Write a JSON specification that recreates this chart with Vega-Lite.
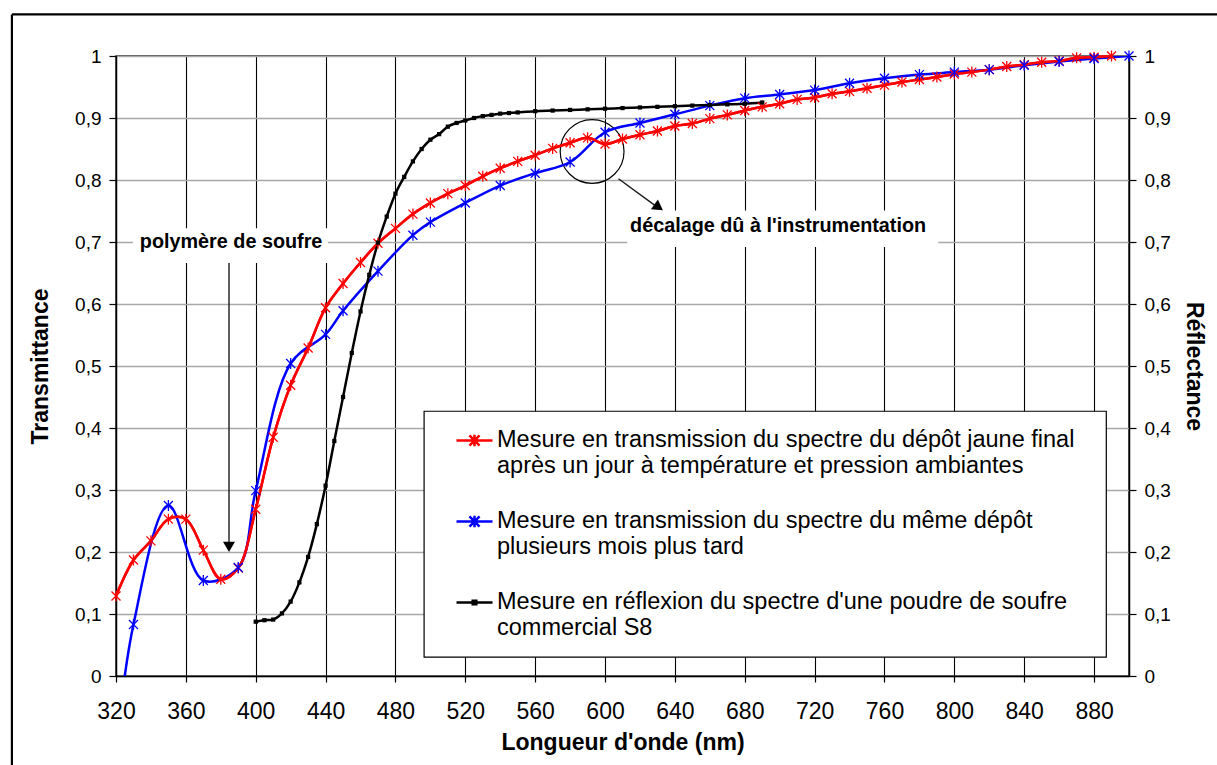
{
  "$schema": "https://vega.github.io/schema/vega-lite/v6.json",
  "width": 1013,
  "height": 620,
  "autosize": {"type": "none"},
  "padding": {"left": 116, "top": 56, "right": 88, "bottom": 89},
  "background": "white",
  "config": {
    "font": "Liberation Sans",
    "view": {"stroke": "#222222", "strokeWidth": 1.5},
    "axis": {"domainColor": "#000000", "domainWidth": 1.5, "tickColor": "#000000", "tickWidth": 1.2, "labelColor": "#000000", "titleColor": "#000000", "labelFont": "Liberation Sans", "titleFont": "Liberation Sans"}
  },
  "datasets": {
    "spectra": [
      {"s": "A", "nm": 320, "v": 0.129}, {"s": "A", "nm": 330, "v": 0.187}, {"s": "A", "nm": 340, "v": 0.218}, {"s": "A", "nm": 350, "v": 0.253}, {"s": "A", "nm": 360, "v": 0.253}, {"s": "A", "nm": 370, "v": 0.203}, {"s": "A", "nm": 380, "v": 0.156}, {"s": "A", "nm": 390, "v": 0.174}, {"s": "A", "nm": 400, "v": 0.269}, {"s": "A", "nm": 410, "v": 0.385}, {"s": "A", "nm": 420, "v": 0.469}, {"s": "A", "nm": 430, "v": 0.529}, {"s": "A", "nm": 440, "v": 0.594}, {"s": "A", "nm": 450, "v": 0.633}, {"s": "A", "nm": 460, "v": 0.667}, {"s": "A", "nm": 470, "v": 0.698}, {"s": "A", "nm": 480, "v": 0.722}, {"s": "A", "nm": 490, "v": 0.745}, {"s": "A", "nm": 500, "v": 0.763}, {"s": "A", "nm": 510, "v": 0.778}, {"s": "A", "nm": 520, "v": 0.791}, {"s": "A", "nm": 530, "v": 0.806}, {"s": "A", "nm": 540, "v": 0.819}, {"s": "A", "nm": 550, "v": 0.830}, {"s": "A", "nm": 560, "v": 0.840}, {"s": "A", "nm": 570, "v": 0.851}, {"s": "A", "nm": 580, "v": 0.860}, {"s": "A", "nm": 590, "v": 0.868}, {"s": "A", "nm": 600, "v": 0.858}, {"s": "A", "nm": 610, "v": 0.866}, {"s": "A", "nm": 620, "v": 0.873}, {"s": "A", "nm": 630, "v": 0.879}, {"s": "A", "nm": 640, "v": 0.887}, {"s": "A", "nm": 650, "v": 0.891}, {"s": "A", "nm": 660, "v": 0.899}, {"s": "A", "nm": 670, "v": 0.905}, {"s": "A", "nm": 680, "v": 0.912}, {"s": "A", "nm": 690, "v": 0.918}, {"s": "A", "nm": 700, "v": 0.923}, {"s": "A", "nm": 710, "v": 0.930}, {"s": "A", "nm": 720, "v": 0.933}, {"s": "A", "nm": 730, "v": 0.939}, {"s": "A", "nm": 740, "v": 0.943}, {"s": "A", "nm": 750, "v": 0.948}, {"s": "A", "nm": 760, "v": 0.953}, {"s": "A", "nm": 770, "v": 0.958}, {"s": "A", "nm": 780, "v": 0.962}, {"s": "A", "nm": 790, "v": 0.966}, {"s": "A", "nm": 800, "v": 0.971}, {"s": "A", "nm": 810, "v": 0.974}, {"s": "A", "nm": 820, "v": 0.978}, {"s": "A", "nm": 830, "v": 0.983}, {"s": "A", "nm": 840, "v": 0.986}, {"s": "A", "nm": 850, "v": 0.990}, {"s": "A", "nm": 860, "v": 0.992}, {"s": "A", "nm": 870, "v": 0.997}, {"s": "A", "nm": 880, "v": 0.998}, {"s": "A", "nm": 890, "v": 1.0},
      {"s": "B", "nm": 320, "v": -0.12}, {"s": "B", "nm": 330, "v": 0.083}, {"s": "B", "nm": 350, "v": 0.275}, {"s": "B", "nm": 370, "v": 0.154}, {"s": "B", "nm": 390, "v": 0.175}, {"s": "B", "nm": 400, "v": 0.299}, {"s": "B", "nm": 420, "v": 0.504}, {"s": "B", "nm": 440, "v": 0.551}, {"s": "B", "nm": 450, "v": 0.589}, {"s": "B", "nm": 470, "v": 0.653}, {"s": "B", "nm": 490, "v": 0.711}, {"s": "B", "nm": 500, "v": 0.732}, {"s": "B", "nm": 520, "v": 0.763}, {"s": "B", "nm": 540, "v": 0.791}, {"s": "B", "nm": 560, "v": 0.811}, {"s": "B", "nm": 580, "v": 0.829}, {"s": "B", "nm": 600, "v": 0.877}, {"s": "B", "nm": 620, "v": 0.892}, {"s": "B", "nm": 640, "v": 0.906}, {"s": "B", "nm": 660, "v": 0.920}, {"s": "B", "nm": 680, "v": 0.932}, {"s": "B", "nm": 700, "v": 0.938}, {"s": "B", "nm": 720, "v": 0.945}, {"s": "B", "nm": 740, "v": 0.956}, {"s": "B", "nm": 760, "v": 0.964}, {"s": "B", "nm": 780, "v": 0.970}, {"s": "B", "nm": 800, "v": 0.974}, {"s": "B", "nm": 820, "v": 0.978}, {"s": "B", "nm": 840, "v": 0.985}, {"s": "B", "nm": 860, "v": 0.991}, {"s": "B", "nm": 880, "v": 0.996}, {"s": "B", "nm": 900, "v": 1.0},
      {"s": "C", "nm": 400, "v": 0.0876}, {"s": "C", "nm": 405, "v": 0.090}, {"s": "C", "nm": 410, "v": 0.091}, {"s": "C", "nm": 415, "v": 0.101}, {"s": "C", "nm": 420, "v": 0.120}, {"s": "C", "nm": 425, "v": 0.151}, {"s": "C", "nm": 430, "v": 0.192}, {"s": "C", "nm": 435, "v": 0.245}, {"s": "C", "nm": 440, "v": 0.307}, {"s": "C", "nm": 445, "v": 0.379}, {"s": "C", "nm": 450, "v": 0.450}, {"s": "C", "nm": 455, "v": 0.521}, {"s": "C", "nm": 460, "v": 0.588}, {"s": "C", "nm": 465, "v": 0.647}, {"s": "C", "nm": 470, "v": 0.699}, {"s": "C", "nm": 475, "v": 0.741}, {"s": "C", "nm": 480, "v": 0.778}, {"s": "C", "nm": 485, "v": 0.805}, {"s": "C", "nm": 490, "v": 0.830}, {"s": "C", "nm": 495, "v": 0.850}, {"s": "C", "nm": 500, "v": 0.865}, {"s": "C", "nm": 505, "v": 0.874}, {"s": "C", "nm": 510, "v": 0.886}, {"s": "C", "nm": 515, "v": 0.892}, {"s": "C", "nm": 520, "v": 0.896}, {"s": "C", "nm": 525, "v": 0.900}, {"s": "C", "nm": 530, "v": 0.903}, {"s": "C", "nm": 535, "v": 0.905}, {"s": "C", "nm": 540, "v": 0.907}, {"s": "C", "nm": 545, "v": 0.908}, {"s": "C", "nm": 550, "v": 0.909}, {"s": "C", "nm": 560, "v": 0.911}, {"s": "C", "nm": 570, "v": 0.912}, {"s": "C", "nm": 580, "v": 0.913}, {"s": "C", "nm": 590, "v": 0.914}, {"s": "C", "nm": 600, "v": 0.915}, {"s": "C", "nm": 610, "v": 0.916}, {"s": "C", "nm": 620, "v": 0.917}, {"s": "C", "nm": 630, "v": 0.918}, {"s": "C", "nm": 640, "v": 0.919}, {"s": "C", "nm": 650, "v": 0.920}, {"s": "C", "nm": 660, "v": 0.921}, {"s": "C", "nm": 670, "v": 0.922}, {"s": "C", "nm": 680, "v": 0.923}, {"s": "C", "nm": 690, "v": 0.925}
    ]
  },
  "resolve": {"scale": {"y": "independent"}},
  "layer": [
    {
      "data": {"name": "spectra"},
      "transform": [{"filter": "datum.s == 'A'"}],
      "mark": {"type": "line", "strokeWidth": 2.5, "interpolate": "catmull-rom"},
      "encoding": {
        "x": {
          "field": "nm", "type": "quantitative",
          "scale": {"domain": [320, 900], "nice": false, "zero": false},
          "axis": {
            "title": "Longueur d'onde (nm)",
            "values": [320, 340, 360, 380, 400, 420, 440, 460, 480, 500, 520, 540, 560, 580, 600, 620, 640, 660, 680, 700, 720, 740, 760, 780, 800, 820, 840, 860, 880, 900],
            "labelExpr": "datum.value % 40 == 0 ? datum.label : ''",
            "labelFlush": false,
            "labelOverlap": false,
            "labelFontSize": 23,
            "labelPadding": 18,
            "tickSize": 6,
            "grid": true,
            "gridColor": "#000000",
            "gridWidth": 1.1,
            "gridOpacity": {"condition": {"test": "datum.value % 40 != 0 || datum.value == 320 || datum.value == 900", "value": 0}, "value": 1},
            "titleFontSize": 23,
            "titleFontWeight": "bold",
            "titlePadding": 8
          }
        },
        "y": {
          "field": "v", "type": "quantitative",
          "scale": {"domain": [0, 1], "nice": false, "zero": false},
          "axis": {
            "title": "Transmittance",
            "values": [0, 0.1, 0.2, 0.3, 0.4, 0.5, 0.6, 0.7, 0.8, 0.9, 1],
            "labelExpr": "replace(format(datum.value, '.1~f'), '.', ',')",
            "labelFontSize": 19,
            "labelPadding": 8,
            "tickSize": 7,
            "grid": true,
            "gridColor": "#a8a8a8",
            "gridWidth": 1.4,
            "titleFontSize": 23,
            "titleFontWeight": "bold",
            "titlePadding": 22
          }
        },
        "color": {
          "field": "s", "type": "nominal",
          "scale": {"domain": ["A", "B", "C"], "range": ["#ff0000", "#0000ff", "#000000"]},
          "legend": {
            "orient": "none",
            "legendX": 339,
            "legendY": 365,
            "direction": "vertical",
            "title": null,
            "padding": 0,
            "values": ["A", "B", "C"],
            "labelExpr": "datum.value == 'A' ? ['Mesure en transmission du spectre du dépôt jaune final', 'après un jour à température et pression ambiantes'] : datum.value == 'B' ? ['Mesure en transmission du spectre du même dépôt', 'plusieurs mois plus tard'] : [\"Mesure en réflexion du spectre d'une poudre de soufre\", 'commercial S8']",
            "labelFontSize": 23.5,
            "labelLimit": 0,
            "labelOffset": 3,
            "labelBaseline": "top",
            "labelColor": "#000000",
            "symbolSize": 1296,
            "symbolStrokeWidth": 2.5,
            "rowPadding": 25,
            "encode": {
              "symbols": {"update": {
                "shape": {"signal": "datum.value == 'C' ? 'M-1,0L1,0M-0.1,-0.1L0.1,-0.1L0.1,0.1L-0.1,0.1Z' : 'M-1,0L1,0M-0.28,-0.28L0.28,0.28M-0.28,0.28L0.28,-0.28M0,-0.32L0,0.32'"},
                "fill": {"value": "transparent"}
              }},
              "labels": {"update": {"dy": {"value": -13}, "lineHeight": {"value": 26}}}
            }
          }
        }
      }
    },
    {
      "data": {"values": [{"x": 260.4, "x2": 960, "y": 1.067, "y2": 1.067}, {"x": 260.4, "x2": 260.4, "y": 1.067, "y2": -0.3}]},
      "mark": {"type": "rule", "color": "#000000", "strokeWidth": 2.2, "clip": false},
      "encoding": {
        "x": {"field": "x", "type": "quantitative"},
        "x2": {"field": "x2"},
        "y": {"field": "y", "type": "quantitative", "axis": null, "scale": {"domain": [0, 1], "nice": false, "zero": false}},
        "y2": {"field": "y2"}
      }
    },
    {
      "data": {"values": [{"x": 496.4, "x2": 887.0, "y": 0.427, "y2": 0.0306}]},
      "mark": {"type": "rect", "fill": "#ffffff", "stroke": "#000000", "strokeWidth": 1.2},
      "encoding": {
        "x": {"field": "x", "type": "quantitative"},
        "x2": {"field": "x2"},
        "y": {"field": "y", "type": "quantitative", "axis": null, "scale": {"domain": [0, 1], "nice": false, "zero": false}},
        "y2": {"field": "y2"}
      }
    },
    {
      "data": {"values": [{"x": 329.7, "x2": 441.4, "y": 0.722, "y2": 0.666}, {"x": 612.7, "x2": 790.8, "y": 0.751, "y2": 0.692}]},
      "mark": {"type": "rect", "fill": "#ffffff"},
      "encoding": {
        "x": {"field": "x", "type": "quantitative"},
        "x2": {"field": "x2"},
        "y": {"field": "y", "type": "quantitative", "axis": null, "scale": {"domain": [0, 1], "nice": false, "zero": false}},
        "y2": {"field": "y2"}
      }
    },
    {
      "data": {"values": [{"nm": 592.6, "v": 0.846}]},
      "mark": {"type": "point", "shape": "circle", "size": 4072, "filled": false, "stroke": "#000000", "strokeWidth": 1.2, "opacity": 1},
      "encoding": {
        "x": {"field": "nm", "type": "quantitative"},
        "y": {"field": "v", "type": "quantitative", "axis": null, "scale": {"domain": [0, 1], "nice": false, "zero": false}}
      }
    },
    {
      "data": {"values": [{"x": 384.7, "y": 0.666, "x2": 384.7, "y2": 0.21}, {"x": 607.7, "y": 0.802, "x2": 630.3, "y2": 0.7555}]},
      "mark": {"type": "rule", "color": "#1a1a1a", "strokeWidth": 1.4},
      "encoding": {
        "x": {"field": "x", "type": "quantitative"},
        "x2": {"field": "x2"},
        "y": {"field": "y", "type": "quantitative", "axis": null, "scale": {"domain": [0, 1], "nice": false, "zero": false}},
        "y2": {"field": "y2"}
      }
    },
    {
      "data": {"values": [{"nm": 384.7, "v": 0.2083, "a": 0}, {"nm": 630.7, "v": 0.756, "a": 305.5}]},
      "mark": {"type": "point", "shape": "triangle-down", "size": 144, "filled": true, "color": "#000000", "opacity": 1},
      "encoding": {
        "x": {"field": "nm", "type": "quantitative"},
        "y": {"field": "v", "type": "quantitative", "axis": null, "scale": {"domain": [0, 1], "nice": false, "zero": false}},
        "angle": {"field": "a", "type": "quantitative", "scale": null}
      }
    },
    {
      "data": {"name": "spectra"},
      "transform": [{"filter": "datum.s == 'B'"}],
      "mark": {"type": "line", "strokeWidth": 2.5, "interpolate": "catmull-rom", "clip": true},
      "encoding": {
        "x": {"field": "nm", "type": "quantitative"},
        "y": {"field": "v", "type": "quantitative", "axis": null, "scale": {"domain": [0, 1], "nice": false, "zero": false}},
        "color": {"field": "s", "type": "nominal"}
      }
    },
    {
      "data": {"name": "spectra"},
      "transform": [{"filter": "datum.s == 'A'"}],
      "mark": {"type": "line", "strokeWidth": 2.5, "interpolate": "catmull-rom"},
      "encoding": {
        "x": {"field": "nm", "type": "quantitative"},
        "y": {"field": "v", "type": "quantitative", "axis": null, "scale": {"domain": [0, 1], "nice": false, "zero": false}},
        "color": {"field": "s", "type": "nominal"}
      }
    },
    {
      "data": {"name": "spectra"},
      "transform": [{"filter": "datum.s == 'C'"}],
      "mark": {"type": "line", "strokeWidth": 2.5, "interpolate": "catmull-rom"},
      "encoding": {
        "x": {"field": "nm", "type": "quantitative"},
        "y": {
          "field": "v", "type": "quantitative",
          "scale": {"domain": [0, 1], "nice": false, "zero": false},
          "axis": {
            "orient": "right",
            "title": "Réflectance",
            "values": [0, 0.1, 0.2, 0.3, 0.4, 0.5, 0.6, 0.7, 0.8, 0.9, 1],
            "labelExpr": "replace(format(datum.value, '.1~f'), '.', ',')",
            "labelFontSize": 19,
            "labelPadding": 8,
            "tickSize": 7,
            "grid": false,
            "titleFontSize": 23,
            "titleFontWeight": "bold",
            "titlePadding": 11
          }
        },
        "color": {"field": "s", "type": "nominal"}
      }
    },
    {
      "data": {"name": "spectra"},
      "transform": [{"filter": "datum.s != 'C' && datum.v >= 0"}],
      "mark": {"type": "point", "shape": "M-0.9,-0.9L0.9,0.9M-0.9,0.9L0.9,-0.9M0,-1.1L0,1.1", "size": 100, "filled": false, "strokeWidth": 1.3, "opacity": 1},
      "encoding": {
        "x": {"field": "nm", "type": "quantitative"},
        "y": {"field": "v", "type": "quantitative", "axis": null, "scale": {"domain": [0, 1], "nice": false, "zero": false}},
        "color": {"field": "s", "type": "nominal"}
      }
    },
    {
      "data": {"name": "spectra"},
      "transform": [{"filter": "datum.s == 'C'"}],
      "mark": {"type": "point", "shape": "square", "size": 18, "filled": true, "color": "#000000", "opacity": 1},
      "encoding": {
        "x": {"field": "nm", "type": "quantitative"},
        "y": {"field": "v", "type": "quantitative", "axis": null, "scale": {"domain": [0, 1], "nice": false, "zero": false}}
      }
    },
    {
      "data": {"values": [{"nm": 385.9, "v": 0.7, "t": "polymère de soufre"}, {"nm": 699.1, "v": 0.726, "t": "décalage dû à l'instrumentation"}]},
      "mark": {"type": "text", "fontWeight": "bold", "fontSize": 19.8, "align": "center", "baseline": "middle", "color": "#000000"},
      "encoding": {
        "x": {"field": "nm", "type": "quantitative"},
        "y": {"field": "v", "type": "quantitative", "axis": null, "scale": {"domain": [0, 1], "nice": false, "zero": false}},
        "text": {"field": "t"}
      }
    }
  ]
}
